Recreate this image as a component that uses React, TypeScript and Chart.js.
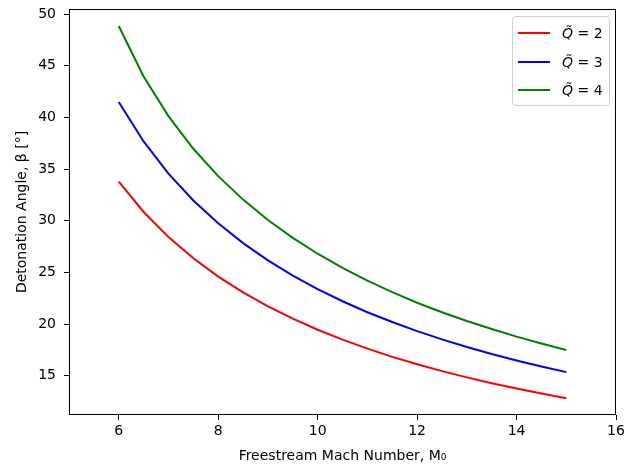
import React, { useEffect, useRef } from "react";
import { Chart, registerables } from "chart.js";

Chart.register(...registerables);

const machNumbers = [6, 6.5, 7, 7.5, 8, 8.5, 9, 9.5, 10, 10.5, 11, 11.5, 12, 12.5, 13, 13.5, 14, 14.5, 15];
const betaQ2 = [33.8, 30.85, 28.42, 26.37, 24.6, 23.07, 21.72, 20.52, 19.45, 18.49, 17.62, 16.83, 16.11, 15.45, 14.84, 14.28, 13.76, 13.28, 12.83];
const betaQ3 = [41.5, 37.68, 34.57, 31.97, 29.76, 27.84, 26.17, 24.7, 23.39, 22.21, 21.15, 20.2, 19.32, 18.52, 17.78, 17.1, 16.48, 15.89, 15.35];
const betaQ4 = [48.85, 43.97, 40.13, 36.97, 34.32, 32.05, 30.07, 28.34, 26.81, 25.44, 24.21, 23.09, 22.07, 21.15, 20.3, 19.52, 18.79, 18.12, 17.5];
const seriesLabels = ["2", "3", "4"];
const seriesColors = ["#ff0000", "#0000ff", "#008000"];
const xTicks = [6, 8, 10, 12, 14, 16];
const yTicks = [15, 20, 25, 30, 35, 40, 45, 50];

const FONT = "'DejaVu Sans', sans-serif";

const framePlugin = {
  id: "frame",
  afterDraw(chart: any) {
    const { ctx, chartArea } = chart;
    ctx.save();
    ctx.strokeStyle = "#000";
    ctx.lineWidth = 1;
    ctx.strokeRect(
      Math.round(chartArea.left) + 0.5,
      Math.round(chartArea.top) + 0.5,
      Math.round(chartArea.right - chartArea.left) - 1,
      Math.round(chartArea.bottom - chartArea.top) - 1
    );
    ctx.restore();
  },
};

export default function App() {
  const canvasRef = useRef<HTMLCanvasElement>(null);

  useEffect(() => {
    document.body.style.margin = "0";
    const series = [betaQ2, betaQ3, betaQ4];
    const chart = new Chart(canvasRef.current!, {
      type: "line",
      data: {
        datasets: series.map((vals, i) => ({
          label: "Q\u0303 = " + seriesLabels[i],
          data: machNumbers.map((m, j) => ({ x: m, y: vals[j] })),
          borderColor: seriesColors[i],
          backgroundColor: seriesColors[i],
          borderWidth: 2,
          pointRadius: 0,
          tension: 0,
          fill: false,
        })),
      },
      options: {
        animation: false,
        responsive: false,
        maintainAspectRatio: false,
        layout: { padding: { left: 0, right: 9, top: 9, bottom: 0 } },
        plugins: {
          legend: { display: false },
          tooltip: { enabled: false },
        },
        scales: {
          x: {
            type: "linear",
            min: 5,
            max: 16,
            afterBuildTicks: (scale: any) => {
              scale.ticks = xTicks.map((v) => ({ value: v }));
            },
            afterFit: (scale: any) => {
              scale.height = 53;
              scale.paddingLeft = 0;
              scale.paddingRight = 0;
            },
            border: { display: false },
            grid: {
              drawOnChartArea: false,
              drawTicks: true,
              tickLength: 5,
              color: "#000",
              lineWidth: 1,
            },
            ticks: {
              color: "#000",
              font: { family: FONT, size: 14 },
              padding: 3,
              maxRotation: 0,
            },
            title: {
              display: true,
              text: "Freestream Mach Number, M\u2080",
              color: "#000",
              font: { family: FONT, size: 14 },
              padding: { top: 0, bottom: 3.6 },
            },
          },
          y: {
            type: "linear",
            min: 11.2,
            max: 50.5,
            afterBuildTicks: (scale: any) => {
              scale.ticks = yTicks.map((v) => ({ value: v }));
            },
            afterFit: (scale: any) => {
              scale.width = 69;
              scale.paddingTop = 0;
              scale.paddingBottom = 0;
            },
            border: { display: false },
            grid: {
              drawOnChartArea: false,
              drawTicks: true,
              tickLength: 5,
              color: "#000",
              lineWidth: 1,
            },
            ticks: {
              color: "#000",
              font: { family: FONT, size: 14 },
              padding: 8,
            },
            title: {
              display: true,
              text: "Detonation Angle, \u03B2 [\u00B0]",
              color: "#000",
              font: { family: FONT, size: 14 },
              padding: { top: 13.6, bottom: 0 },
            },
          },
        },
      },
      plugins: [framePlugin],
    });
    return () => chart.destroy();
  }, []);

  return (
    <div style={{ position: "relative", width: 625, height: 468 }}>
      <canvas ref={canvasRef} width={625} height={468} style={{ display: "block" }} />
      <div
        style={{
          position: "absolute",
          left: 512,
          top: 16,
          width: 96,
          height: 88,
          border: "1px solid #d0d0d0",
          borderRadius: 4,
          background: "rgba(255,255,255,0.8)",
          fontFamily: FONT,
          fontSize: 14,
          color: "#000",
        }}
      >
        {seriesLabels.map((lab, i) => (
          <div
            key={lab}
            style={{
              position: "absolute",
              left: 0,
              top: 16 + i * 28.5 - 10,
              height: 20,
              width: 96,
              display: "flex",
              alignItems: "center",
            }}
          >
            <span
              style={{
                display: "inline-block",
                marginLeft: 5,
                width: 32,
                height: 2,
                background: seriesColors[i],
              }}
            />
            <span style={{ marginLeft: 12, whiteSpace: "nowrap" }}>
              <i>Q{"\u0303"}</i> = {lab}
            </span>
          </div>
        ))}
      </div>
    </div>
  );
}
